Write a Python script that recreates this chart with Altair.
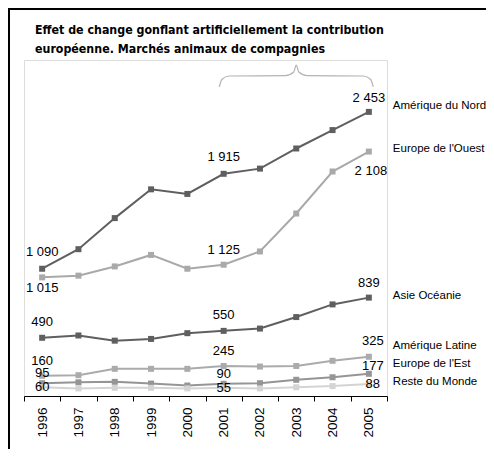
import altair as alt
import pandas as pd

# ---------------- data ----------------
years = [1996, 1997, 1998, 1999, 2000, 2001, 2002, 2003, 2004, 2005]
series_names = ["Amérique du Nord", "Europe de l'Ouest", "Asie Océanie",
                "Amérique Latine", "Europe de l'Est", "Reste du Monde"]
amerique_nord = [1090, 1260, 1530, 1780, 1740, 1915, 1960, 2135, 2295, 2453]
europe_ouest = [1015, 1030, 1110, 1210, 1090, 1125, 1240, 1570, 1935, 2108]
asie_oceanie = [490, 510, 465, 480, 530, 550, 570, 670, 780, 839]
amerique_latine = [160, 165, 220, 220, 220, 245, 240, 245, 290, 325]
europe_est = [95, 103, 107, 92, 75, 90, 95, 125, 147, 177]
reste_monde = [60, 50, 55, 55, 50, 55, 50, 60, 70, 88]
labelled_years = [1996, 2001, 2005]
title_lines = ["Effet de change gonflant artificiellement la contribution",
               "européenne. Marchés animaux de compagnies"]
# curly brace over 2001-2005 (annotation, in data units)
brace_x = [2000.88, 2000.95, 2001.15, 2002.7, 2002.93, 2003.0, 2003.07, 2003.3, 2004.85, 2005.05, 2005.12]
brace_y = [2670, 2735, 2765, 2768, 2800, 2860, 2800, 2768, 2765, 2735, 2670]

values = [amerique_nord, europe_ouest, asie_oceanie, amerique_latine, europe_est, reste_monde]

# ---------------- styles ----------------
colors = ["#5f5f5f", "#a9a9a9", "#5f5f5f", "#ababab", "#959595", "#d4d4d4"]
W, H = 363, 336
PAD = {"left": 16, "top": 52, "right": 99, "bottom": 53}
FONT = "Liberation Sans"

rows = []
for name, vals in zip(series_names, values):
    for y, v in zip(years, vals):
        rows.append({"serie": name, "annee": y, "valeur": v,
                     "label": f"{v:,}".replace(",", " ")})
df = pd.DataFrame(rows)

xs = alt.X("annee:Q",
           scale=alt.Scale(domain=[1995.5, 2005.5], nice=False, zero=False),
           axis=alt.Axis(values=[1995.5 + 0.5 * i for i in range(21)],
                         labelExpr="datum.value % 1 === 0 ? '' + datum.value : ''",
                         tickOpacity={"condition": {"test": "datum.value % 1 === 0", "value": 0}, "value": 1},
                         labelAngle=270, labelOverlap=False, grid=False,
                         tickSize=5, labelPadding=6, domainColor="black",
                         tickColor="black", labelColor="black",
                         labelFont=FONT, labelFontSize=13.5, title=None))
ys = alt.Y("valeur:Q", scale=alt.Scale(domain=[-16, 2904], nice=False, zero=False), axis=None)

layers = []
for name, col in zip(series_names, colors):
    sub = df[df.serie == name]
    base = alt.Chart(sub)
    layers.append(base.mark_line(color=col, strokeWidth=2).encode(x=xs, y=ys))
    layers.append(base.mark_square(color=col, size=36, opacity=1).encode(x=xs, y=ys))

# value labels: (serie, years, dx, dy)
label_specs = [
    ("Amérique du Nord", [1996, 2001], 0, -17),
    ("Amérique du Nord", [2005], 0, -14),
    ("Europe de l'Ouest", [1996], 0, 11),
    ("Europe de l'Ouest", [2001], 0, -15),
    ("Europe de l'Ouest", [2005], 2, 19),
    ("Asie Océanie", [1996, 2001], 0, -16),
    ("Asie Océanie", [2005], 0, -15),
    ("Amérique Latine", [1996, 2001], 0, -15),
    ("Amérique Latine", [2005], 4, -16),
    ("Europe de l'Est", [1996, 2001], 0, -10),
    ("Europe de l'Est", [2005], 4, -8),
    ("Reste du Monde", [1996, 2001], 0, 0),
    ("Reste du Monde", [2005], 4, 0),
]
for name, yrs, dx, dy in label_specs:
    sub = df[(df.serie == name) & (df.annee.isin(yrs))]
    layers.append(alt.Chart(sub).mark_text(dx=dx, dy=dy, font=FONT, fontSize=13,
                                           color="black", baseline="middle")
                  .encode(x=xs, y=ys, text="label:N"))

# series names at the right
name_dy = [-6, -3, -2, -11, -10, -2]
for name, dy in zip(series_names, name_dy):
    sub = df[(df.serie == name) & (df.annee == years[-1])]
    layers.append(alt.Chart(sub).mark_text(dx=24, dy=dy, align="left", baseline="middle",
                                           font=FONT, fontSize=11.5, color="black")
                  .encode(x=xs, y=ys, text="serie:N"))

# brace
brace_df = pd.DataFrame({"annee": brace_x, "valeur": brace_y})
layers.append(alt.Chart(brace_df).mark_line(color="#b4b4b4", strokeWidth=1.2, interpolate="monotone")
              .encode(x=xs, y=ys))

# frame (top and left only)
frame_df = pd.DataFrame({"k": [0]})
layers.append(alt.Chart(frame_df).mark_rule(color="black", strokeWidth=2)
              .encode(x=alt.value(-PAD["left"]), x2=alt.value(W + PAD["right"]), y=alt.value(-PAD["top"] + 1)))
layers.append(alt.Chart(frame_df).mark_rule(color="black", strokeWidth=2)
              .encode(x=alt.value(-PAD["left"] + 1), y=alt.value(-PAD["top"]), y2=alt.value(H + PAD["bottom"])))

chart = alt.layer(*layers).properties(
    width=W, height=H,
    autosize=alt.AutoSizeParams(type="none"),
    padding=PAD,
    title=alt.TitleParams(title_lines, anchor="start", frame="group", dx=11, offset=-48,
                          font="Liberation Sans Narrow, DejaVu Sans Condensed, sans-serif",
                          fontSize=12.3, fontWeight="bold", color="black", lineHeight=19),
).configure_view(strokeWidth=0, stroke="transparent").configure(background="white")

chart.save("out.html", embed_options={"renderer": "svg", "actions": False})
